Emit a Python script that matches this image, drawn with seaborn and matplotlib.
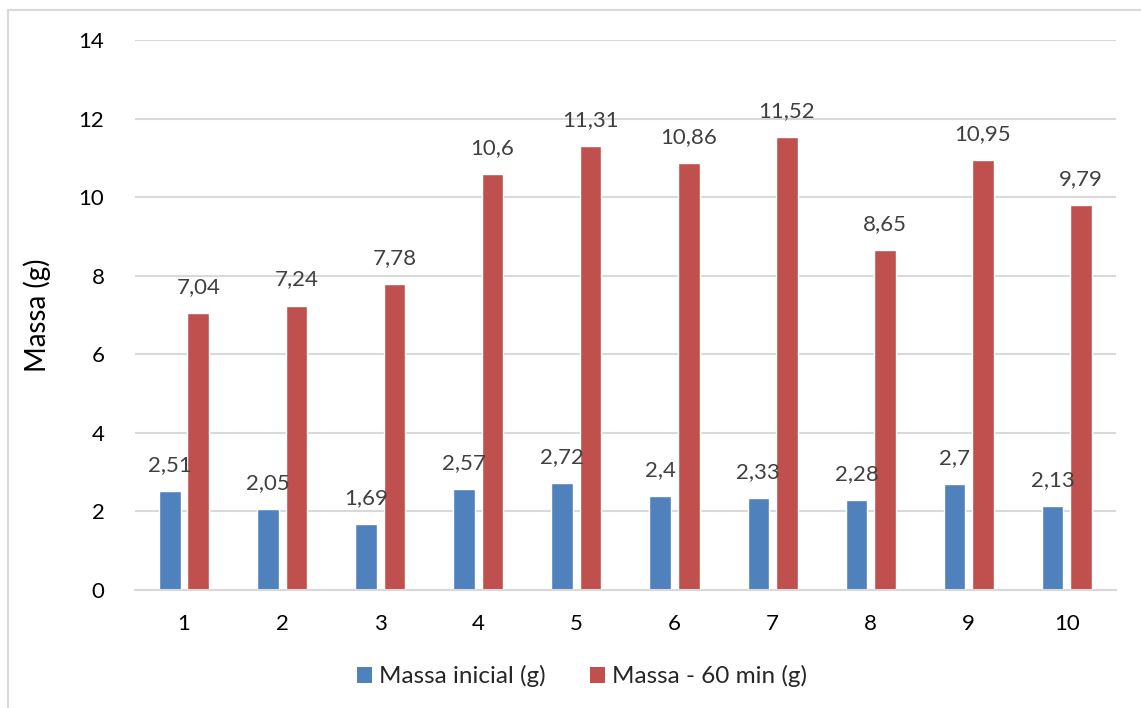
import matplotlib
matplotlib.use("Agg")
import matplotlib.pyplot as plt
from matplotlib.lines import Line2D
from matplotlib.patches import Patch
import seaborn as sns
import pandas as pd

# Sample numbers and measured masses
amostras = ["1", "2", "3", "4", "5", "6", "7", "8", "9", "10"]
massa_inicial = [2.51, 2.05, 1.69, 2.57, 2.72, 2.40, 2.33, 2.28, 2.70, 2.13]
massa_60min = [7.04, 7.24, 7.78, 10.6, 11.31, 10.86, 11.52, 8.65, 10.95, 9.79]
series = ["Massa inicial (g)", "Massa - 60 min (g)"]
cores = ["#4F81BD", "#C0504D"]
y_ticks = [0, 2, 4, 6, 8, 10, 12, 14]

df = pd.DataFrame({
    "Amostra": amostras * 2,
    "Massa": massa_inicial + massa_60min,
    "Serie": [series[0]] * len(amostras) + [series[1]] * len(amostras),
})

sns.set_theme(style="white")
plt.rcParams["font.family"] = ["Lato", "DejaVu Sans"]

fig = plt.figure(figsize=(11.41, 7.08), dpi=100)
ax = fig.add_axes([0.1183, 0.1667, 0.8597, 0.7768])

sns.barplot(data=df, x="Amostra", y="Massa", hue="Serie", order=amostras,
            hue_order=series, palette=cores, width=0.58, gap=0.24,
            saturation=1, ax=ax, legend=False, errorbar=None)

ax.set_ylim(0, 14)
ax.set_xlim(-0.5, len(amostras) - 0.5)
ax.set_yticks(y_ticks)
ax.set_yticklabels([str(t) for t in y_ticks])
ax.yaxis.grid(True, color="#D9D9D9", linewidth=1.5)
ax.set_axisbelow(True)
for s in ["top", "right", "left"]:
    ax.spines[s].set_visible(False)
ax.spines["bottom"].set_color("#D9D9D9")
ax.spines["bottom"].set_linewidth(1.5)
ax.tick_params(axis="both", length=0, labelsize=16, colors="black")
ax.tick_params(axis="y", pad=22)
ax.tick_params(axis="x", pad=17)
ax.set_xlabel("")
ax.set_ylabel("Massa (g)", fontsize=20, color="black", labelpad=20)

# Value labels above each bar, decimal comma
for cont in ax.containers:
    for bar in cont:
        h = bar.get_height()
        txt = f"{h:g}".replace(".", ",")
        ax.annotate(txt, (bar.get_x() + bar.get_width() / 2, h),
                    xytext=(0, 11.5), textcoords="offset points",
                    ha="center", va="bottom", fontsize=16, color="#404040")

handles = [Patch(facecolor=c, edgecolor="none") for c in cores]
fig.legend(handles, series, loc="center", bbox_to_anchor=(0.51, 0.045),
           ncol=2, frameon=False, fontsize=17.5, handlelength=0.62,
           handleheight=0.62, handletextpad=0.3, columnspacing=1.8)

# Chart frame (left and top edges)
fig.add_artist(Line2D([0.0070, 0.0070], [0.0, 0.986], transform=fig.transFigure,
                      color="#D9D9D9", linewidth=1.5))
fig.add_artist(Line2D([0.0070, 1.0], [0.986, 0.986], transform=fig.transFigure,
                      color="#D9D9D9", linewidth=1.5))

fig.savefig("out.png", dpi=100, facecolor="white")
